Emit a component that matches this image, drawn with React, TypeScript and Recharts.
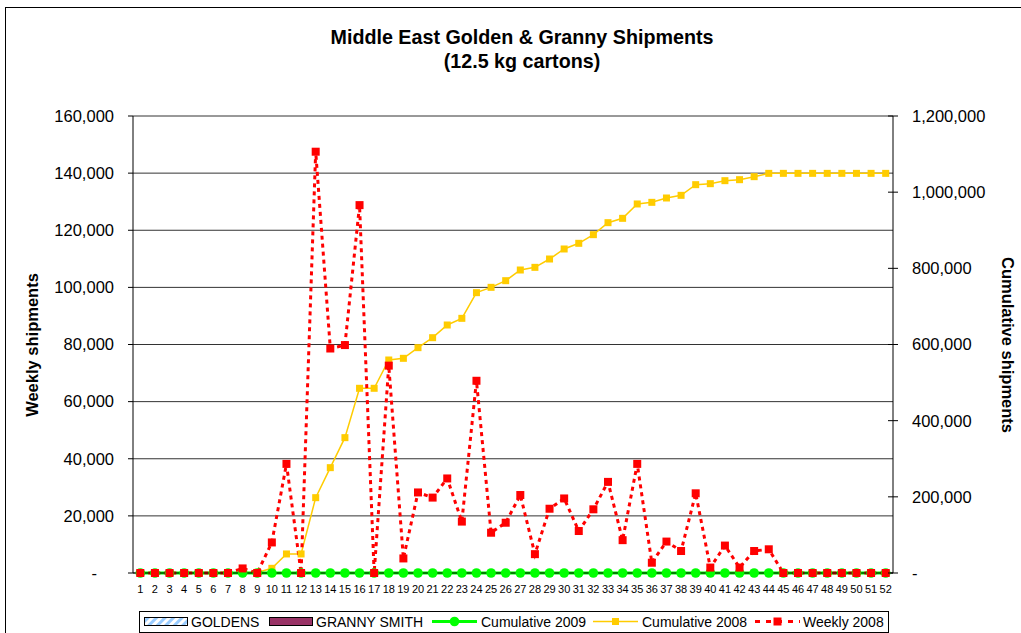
import React from 'react';
import { ComposedChart, Bar, Line, XAxis, YAxis, CartesianGrid } from 'recharts';

const weeks = [
    '1', '2', '3', '4', '5', '6', '7', '8', '9', '10', '11', '12', '13',
    '14', '15', '16', '17', '18', '19', '20', '21', '22', '23', '24', '25', '26',
    '27', '28', '29', '30', '31', '32', '33', '34', '35', '36', '37', '38', '39',
    '40', '41', '42', '43', '44', '45', '46', '47', '48', '49', '50', '51', '52',
];

// no bars shipped this season
const goldens = [
    0, 0, 0, 0, 0, 0, 0, 0, 0, 0, 0, 0, 0, 0, 0, 0, 0, 0, 0, 0, 0, 0, 0, 0, 0, 0,
    0, 0, 0, 0, 0, 0, 0, 0, 0, 0, 0, 0, 0, 0, 0, 0, 0, 0, 0, 0, 0, 0, 0, 0, 0, 0,
];
const grannySmith = [
    0, 0, 0, 0, 0, 0, 0, 0, 0, 0, 0, 0, 0, 0, 0, 0, 0, 0, 0, 0, 0, 0, 0, 0, 0, 0,
    0, 0, 0, 0, 0, 0, 0, 0, 0, 0, 0, 0, 0, 0, 0, 0, 0, 0, 0, 0, 0, 0, 0, 0, 0, 0,
];
const cumulative2009 = [
    0, 0, 0, 0, 0, 0, 0, 0, 0, 0, 0, 0, 0, 0, 0, 0, 0, 0, 0, 0, 0, 0, 0, 0, 0, 0,
    0, 0, 0, 0, 0, 0, 0, 0, 0, 0, 0, 0, 0, 0, 0, 0, 0, 0, 0, 0, 0, 0, 0, 0, 0, 0,
];
const cumulative2008 = [
    0, 0, 0, 0, 0, 0, 0, 1600, 1600, 12300, 50000, 50000, 197800,
    276600, 355400, 485000, 485000, 559300, 563700, 591700, 617900, 651200, 668700, 736100, 750100, 767600,
    795600, 802600, 824500, 850800, 865700, 888400, 919900, 931300, 969000, 973300, 984700, 991700, 1019700,
    1022300, 1030200, 1032800, 1040700, 1049400, 1049400, 1049400, 1049400, 1049400, 1049400, 1049400, 1049400, 1049400,
];
const weekly2008 = [
    0, 0, 0, 0, 0, 0, 0, 1600, 0, 10700, 38200, 0, 147500,
    78600, 79800, 128800, 0, 72600, 5100, 28200, 26400, 33100, 18000, 67300, 14100, 17600,
    27300, 6600, 22500, 26100, 14700, 22300, 31900, 11500, 38200, 3600, 11000, 7700, 27900,
    1900, 9600, 1900, 7700, 8300, 0, 0, 0, 0, 0, 0, 0, 0,
];

const leftTicks = [0, 20000, 40000, 60000, 80000, 100000, 120000, 140000, 160000];
const rightTicks = [0, 200000, 400000, 600000, 800000, 1000000, 1200000];

const data = weeks.map((week, i) => ({
    week,
    goldens: goldens[i],
    granny: grannySmith[i],
    cum2009: cumulative2009[i],
    cum2008: cumulative2008[i],
    weekly2008: weekly2008[i],
}));

const FONT = '"Liberation Sans", Arial, sans-serif';
const fmt = (v: number) => (v === 0 ? '-' : v.toLocaleString('en-US'));

const LeftTick = ({ x, y, payload }: any) => (
    <text x={payload.value === 0 ? x - 17 : x} y={y} dy="0.355em" textAnchor="end"
        fontSize={16.5} fill="#000" fontFamily={FONT}>
        {fmt(payload.value)}
    </text>
);

const RightTick = ({ x, y, payload }: any) => (
    <g>
        <line x1={x - 24} x2={x - 19} y1={y} y2={y} stroke="#000" />
        <text x={x} y={y} dy="0.355em" textAnchor="start" fontSize={16.5} fill="#000" fontFamily={FONT}>
            {fmt(payload.value)}
        </text>
    </g>
);

const squareDot = (size: number, color: string, prefix: string) => (p: any) => (
    <rect key={`${prefix}-${p.index}`} x={p.cx - size / 2} y={p.cy - size / 2}
        width={size} height={size} fill={color} />
);

const circleDot = (p: any) => (
    <circle key={`c-${p.index}`} cx={p.cx} cy={p.cy} r={4.8} fill="#00FF00" />
);

const App = () => {
    return (
        <div style={{ position: 'fixed', left: 0, top: 0, width: 1021, height: 633, overflow: 'hidden', background: '#fff' }}>
            <ComposedChart width={1021} height={633} data={data}
                margin={{ top: 116, right: 0, bottom: 0, left: 0 }}>
                <defs>
                    <pattern id="goldStripes" width="6" height="6" patternUnits="userSpaceOnUse" patternTransform="rotate(45)">
                        <rect width="6" height="6" fill="#fff" />
                        <rect width="3" height="6" fill="#99CCFF" />
                    </pattern>
                </defs>
                <CartesianGrid yAxisId="left" vertical={false} stroke="#333" />
                <XAxis dataKey="week" interval={0} tickLine={false} tickMargin={6} height={60}
                    axisLine={{ stroke: '#000' }}
                    tick={{ fontSize: 11, fill: '#000', fontFamily: FONT }} />
                <YAxis yAxisId="left" width={133} domain={[0, 160000]} ticks={leftTicks}
                    tickSize={5} tickMargin={14} tick={<LeftTick />}
                    axisLine={{ stroke: '#000' }} tickLine={{ stroke: '#000' }} />
                <YAxis yAxisId="right" orientation="right" width={128} domain={[0, 1200000]} ticks={rightTicks}
                    tickSize={5} tickMargin={14} tick={<RightTick />}
                    axisLine={{ stroke: '#000' }} tickLine={{ stroke: '#000' }} />
                <Bar yAxisId="left" dataKey="goldens" stackId="a" fill="url(#goldStripes)" isAnimationActive={false} />
                <Bar yAxisId="left" dataKey="granny" stackId="a" fill="#993366" isAnimationActive={false} />
                <Line yAxisId="right" type="linear" dataKey="cum2008" stroke="#FFCC00" strokeWidth={1.5}
                    dot={squareDot(7, '#FFCC00', 'y')} activeDot={false} isAnimationActive={false} />
                <Line yAxisId="right" type="linear" dataKey="cum2009" stroke="#00FF00" strokeWidth={3}
                    dot={circleDot} activeDot={false} isAnimationActive={false} />
                <Line yAxisId="left" type="linear" dataKey="weekly2008" stroke="#FF0000" strokeWidth={3}
                    strokeDasharray="4 4" dot={squareDot(8, '#FF0000', 'r')} activeDot={false} isAnimationActive={false} />
            </ComposedChart>

            <svg width={1021} height={633} style={{ position: 'absolute', left: 0, top: 0, pointerEvents: 'none' }}
                fontFamily={FONT}>
                <defs>
                    <pattern id="legendStripes" width="6" height="6" patternUnits="userSpaceOnUse" patternTransform="rotate(45)">
                        <rect width="6" height="6" fill="#fff" />
                        <rect width="3" height="6" fill="#99CCFF" />
                    </pattern>
                </defs>
                <rect x={5.5} y={7.5} width={1100} height={700} fill="none" stroke="#000" />

                <text x={522} y={44} textAnchor="middle" fontSize={19.7} fontWeight="bold">Middle East Golden &amp; Granny Shipments</text>
                <text x={522} y={68} textAnchor="middle" fontSize={19.7} fontWeight="bold">(12.5 kg cartons)</text>

                <text transform="translate(38,345) rotate(-90)" textAnchor="middle" fontSize={16.5} fontWeight="bold">Weekly shipments</text>
                <text transform="translate(1002,345) rotate(90)" textAnchor="middle" fontSize={16.5} fontWeight="bold">Cumulative shipments</text>

                {/* legend */}
                <rect x={139.5} y={611.5} width={749} height={21} fill="#fff" stroke="#000" />
                <rect x={144.5} y={617.5} width={43} height={8} fill="url(#legendStripes)" stroke="#000" />
                <text x={191} y={627} fontSize={14}>GOLDENS</text>
                <rect x={269.5} y={617.5} width={43} height={8} fill="#993366" stroke="#000" />
                <text x={316} y={627} fontSize={14}>GRANNY SMITH</text>
                <line x1={432} x2={477} y1={621.5} y2={621.5} stroke="#00FF00" strokeWidth={3} />
                <circle cx={454.5} cy={621.5} r={4.8} fill="#00FF00" />
                <text x={481} y={627} fontSize={14}>Cumulative 2009</text>
                <line x1={593} x2={638} y1={621.5} y2={621.5} stroke="#FFCC00" strokeWidth={1.5} />
                <rect x={612} y={618} width={7} height={7} fill="#FFCC00" />
                <text x={642} y={627} fontSize={14}>Cumulative 2008</text>
                <line x1={755} x2={800} y1={621.5} y2={621.5} stroke="#FF0000" strokeWidth={3} strokeDasharray="5 6" />
                <rect x={773.5} y={617.5} width={8} height={8} fill="#FF0000" />
                <text x={803} y={627} fontSize={14}>Weekly 2008</text>
            </svg>
        </div>
    );
};

export default App;
